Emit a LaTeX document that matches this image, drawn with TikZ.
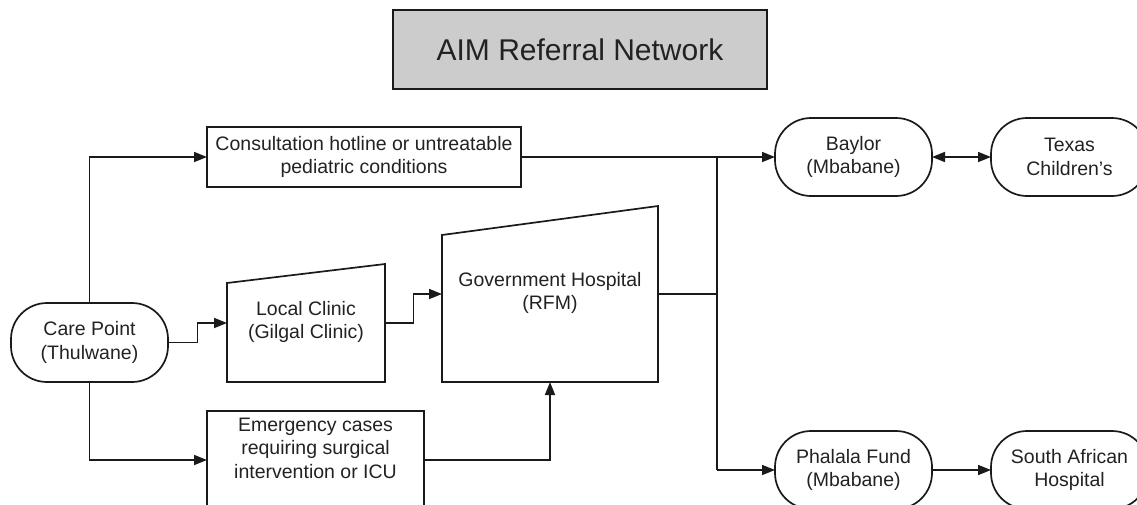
\documentclass[tikz,border=0pt]{standalone}
\usepackage{fontspec}
\setmainfont{Liberation Sans}
\usetikzlibrary{arrows.meta,calc}
\definecolor{linec}{HTML}{1A1A1A}
\definecolor{textc}{HTML}{222222}
\definecolor{titlefill}{HTML}{CCCCCC}
\begin{document}
\begin{tikzpicture}[x=1pt,y=-1pt,line width=1.7pt,
  box/.style={draw=linec,rectangle,inner sep=0pt,outer sep=0pt,align=center,
    font=\fontsize{19.5}{23.5}\selectfont,text=textc},
  term/.style={box,rounded corners=36pt,minimum width=157pt,minimum height=78pt},
  inv/.style={rectangle,inner sep=0pt,outer sep=0pt},
  lbl/.style={align=center,inner sep=0pt,font=\fontsize{19.5}{23.5}\selectfont,text=textc},
  arr/.style={draw=linec,-{Triangle[length=13pt,width=10pt]}},
  dbl/.style={draw=linec,{Triangle[length=13pt,width=10pt]}-{Triangle[length=13pt,width=10pt]}},
  ln/.style={draw=linec}]
\useasboundingbox (0,0) rectangle (1137,504);
\clip (0,0) rectangle (1137,504);

\node[box,fill=titlefill,minimum width=374pt,minimum height=79pt,
  font=\fontsize{30}{36}\selectfont] (title) at (580,49.5) {AIM Referral Network};

\node[term,minimum height=79pt] (care) at (89.5,342.5) {Care Point\\(Thulwane)};
\node[box,minimum width=314pt,minimum height=60pt] (consult) at (364,157)
  {Consultation hotline or untreatable\\pediatric conditions};

\node[inv,minimum width=158pt,minimum height=118pt] (clinic) at (306,323) {};
\draw[ln] (clinic.south west) -- ($(clinic.north west)+(0,19)$) -- (clinic.north east)
  -- (clinic.south east) -- cycle;
\node[lbl] (cliniclbl) at (306,322) {Local Clinic\\(Gilgal Clinic)};

\node[inv,minimum width=216pt,minimum height=176pt] (gov) at (550,294) {};
\draw[ln] (gov.south west) -- ($(gov.north west)+(0,29)$) -- (gov.north east)
  -- (gov.south east) -- cycle;
\node[lbl] (govlbl) at (550,293) {Government Hospital\\(RFM)};

\node[box,minimum width=217pt,minimum height=98pt] (emerg) at (315.5,460) {};
\node[lbl] (emerglbl) at (315.5,448) {Emergency cases\\requiring surgical\\intervention or ICU};

\node[term] (baylor) at (853.5,157) {Baylor\\(Mbabane)};
\node[term] (texas) at (1069.5,157) {Texas\\Children's};
\node[term] (phalala) at (853.5,470) {Phalala Fund\\(Mbabane)};
\node[term] (sah) at (1069.5,470) {South African\\Hospital};

\coordinate (jt) at (717,157);
\coordinate (jm) at (717,294);
\coordinate (jb) at (717,470);
\coordinate (c1) at (197.5,342.5);
\coordinate (c2) at (413.6,323);

% connectors
\draw[arr] (care.north) |- (consult.west);
\draw[arr] (care.south) |- (emerg.west);
\draw[arr] (care.east) -- (c1) |- (clinic.west);
\draw[arr] (clinic.east) -- (c2) |- (gov.west);
\draw[arr] (emerg.east) -| (gov.south);
\draw[arr] (consult.east) -- (baylor.west);
\draw[ln] (gov.east) -- (jm);
\draw[ln] (jt) -- (jb);
\draw[arr] (jb) -- (phalala.west);
\draw[dbl] (baylor.east) -- (texas.west);
\draw[arr] (phalala.east) -- (sah.west);
\end{tikzpicture}
\end{document}
